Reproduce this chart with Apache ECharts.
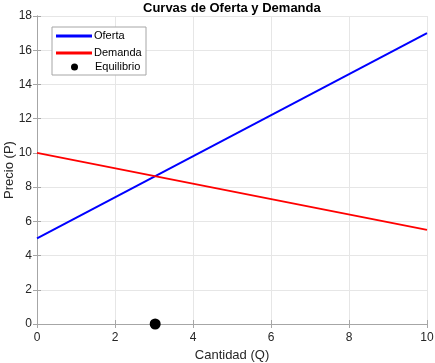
<!DOCTYPE html>
<html><head><meta charset="utf-8">
<script src="https://cdn.jsdelivr.net/npm/echarts@6/dist/echarts.min.js"></script>
<style>html,body{margin:0;padding:0;background:#fff}#c{width:435px;height:363px}</style>
</head><body><div id="c"></div>
<script>
var quantities = [0, 10];
var supplyPrices = [5, 17];
var demandPrices = [10, 5.5];
var equilibrium = [3.03, 0];
var xTicks = [0, 2, 4, 6, 8, 10];
var yTicks = [0, 2, 4, 6, 8, 10, 12, 14, 16, 18];

var font = 'Arial, "Liberation Sans", Helvetica, sans-serif';
var chart = echarts.init(document.getElementById('c'), null, {renderer: 'canvas'});
function pairs(xs, ys) { return xs.map(function (x, i) { return [x, ys[i]]; }); }
var axisCommon = {
  min: 0,
  axisLine: {show: true, lineStyle: {color: '#a6a6a6', width: 1}},
  axisTick: {show: true, inside: true, length: 4, lineStyle: {color: '#a6a6a6'}},
  splitLine: {show: true, lineStyle: {color: '#e6e6e6', width: 1}},
  axisLabel: {color: '#262626', fontSize: 12, fontFamily: font}
};
chart.setOption({
  animation: false,
  title: {text: 'Curvas de Oferta y Demanda', left: 143, top: 2, padding: 0,
    textStyle: {fontSize: 13, fontWeight: 'bold', color: '#000', fontFamily: font}},
  grid: {left: 37, right: 8, top: 16, bottom: 39, containLabel: false, outerBoundsMode: 'none'},
  graphic: [{type: 'rect', shape: {x: 52, y: 27, width: 94, height: 48},
    style: {fill: '#fff', stroke: '#a6a6a6', lineWidth: 1}, z: 100}],
  legend: [{
    data: [{name: 'Oferta', icon: 'rect'}, {name: 'Demanda', icon: 'rect'}],
    orient: 'vertical', left: 56, top: 29, padding: 0,
    itemWidth: 36, itemHeight: 3, itemGap: 3, z: 101,
    textStyle: {fontSize: 11, color: '#000', fontFamily: font, padding: [0, 0, 0, -3], lineHeight: 14}
  }, {
    data: [{name: 'Equilibrio', icon: 'circle'}], orient: 'vertical', left: 71, top: 60, padding: 0,
    itemWidth: 7, itemHeight: 7, z: 101,
    textStyle: {fontSize: 11, color: '#000', fontFamily: font, padding: [0, 0, 0, 12], lineHeight: 14}
  }],
  xAxis: [Object.assign({}, axisCommon, {
    type: 'value', max: 10, interval: 2,
    name: 'Cantidad (Q)', nameLocation: 'middle', nameGap: 25, nameMoveOverlap: false,
    nameTextStyle: {fontSize: 13, color: '#262626', fontFamily: font},
    axisLabel: Object.assign({}, axisCommon.axisLabel, {margin: 8, formatter: function (v) { return xTicks.indexOf(v) >= 0 ? String(v) : ''; }})
  }), {
    type: 'value', position: 'top', min: 0, max: 10, interval: 2,
    axisLine: {show: true, lineStyle: {color: '#a6a6a6'}},
    axisTick: {show: true, inside: true, length: 4, lineStyle: {color: '#a6a6a6'}},
    axisLabel: {show: false}, splitLine: {show: false}
  }],
  yAxis: [Object.assign({}, axisCommon, {
    type: 'value', max: 18, interval: 2,
    name: 'Precio (P)', nameLocation: 'middle', nameGap: 21, nameMoveOverlap: false,
    nameTextStyle: {fontSize: 13, color: '#262626', fontFamily: font},
    axisLabel: Object.assign({}, axisCommon.axisLabel, {margin: 5, formatter: function (v) { return yTicks.indexOf(v) >= 0 ? String(v) : ''; }})
  }), {
    type: 'value', position: 'right', min: 0, max: 18, interval: 2,
    axisLine: {show: true, lineStyle: {color: '#a6a6a6'}},
    axisTick: {show: true, inside: true, length: 4, lineStyle: {color: '#a6a6a6'}},
    axisLabel: {show: false}, splitLine: {show: false}
  }],
  series: [{
    name: 'Oferta', type: 'line', data: pairs(quantities, supplyPrices),
    symbol: 'none', lineStyle: {color: '#0000ff', width: 2}, itemStyle: {color: '#0000ff'}, z: 3
  }, {
    name: 'Demanda', type: 'line', data: pairs(quantities, demandPrices),
    symbol: 'none', lineStyle: {color: '#ff0000', width: 2}, itemStyle: {color: '#ff0000'}, z: 3
  }, {
    name: 'Equilibrio', type: 'scatter', data: [equilibrium], clip: false,
    symbol: 'circle', symbolSize: 11, itemStyle: {color: '#000', opacity: 1}, z: 5
  }]
});
</script></body></html>
